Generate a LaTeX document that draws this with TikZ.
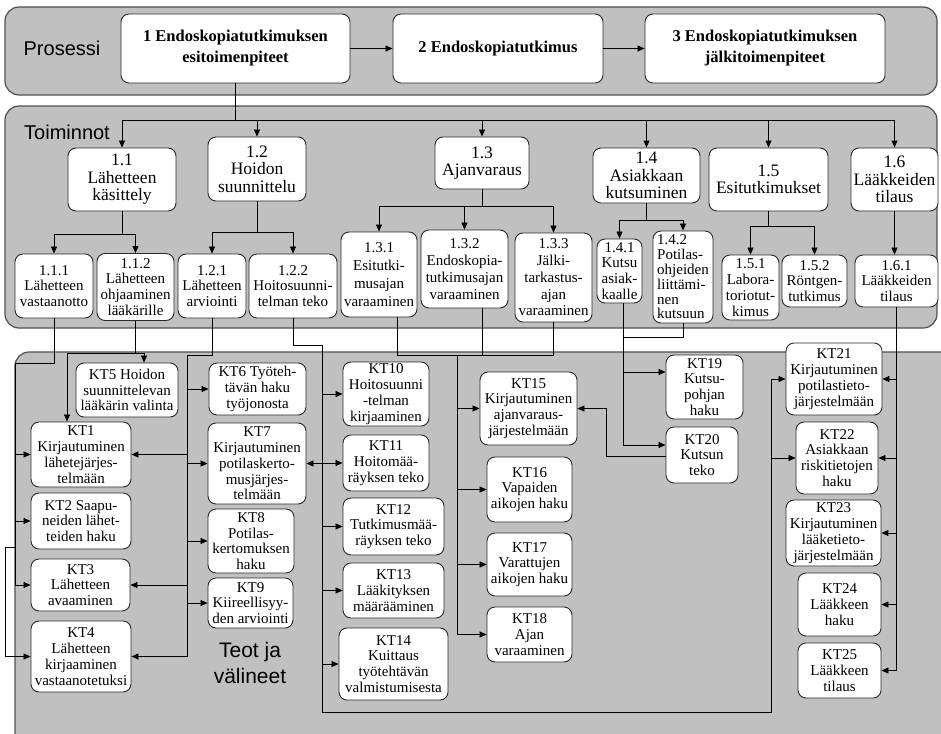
\documentclass[tikz,border=0pt]{standalone}
\usepackage{fontspec}
\setmainfont{Liberation Serif}
\setsansfont{Liberation Sans}
\usepackage{tikz}
\usetikzlibrary{arrows.meta, calc}
\definecolor{panelFill}{HTML}{C0C0C0}
\definecolor{panelB}{HTML}{505050}
\definecolor{boxB}{HTML}{2A2A2A}

\begin{document}
\begin{tikzpicture}[x=1pt, y=-1pt, panel/.style={draw=panelB, fill=panelFill, line width=1.2pt, rounded corners=14pt}, box/.style={draw=boxB, fill=white, line width=0.9pt, rounded corners=8pt, align=center, inner sep=1pt}, sz/.style 2 args={minimum width=#1pt, minimum height=#2pt}, prc/.style={box, font=\bfseries\fontsize{16.5}{21}\selectfont}, fn/.style={box, font=\fontsize{17.5}{17.5}\selectfont}, sub/.style={box, font=\fontsize{15}{15.8}\selectfont}, kt/.style={box, font=\fontsize{15}{15.8}\selectfont}, lbl/.style={font=\sffamily\fontsize{20}{24}\selectfont, align=center}, arr/.style={-{Triangle[length=7pt,width=6pt]}, line width=0.7pt}, ln/.style={line width=0.7pt}]
\useasboundingbox (0,0) rectangle (941,733);
\clip (0,0) rectangle (941,733);
\draw[panel] (5,7) rectangle (937,95);
\draw[panel] (5,106) rectangle (937,328);
\draw[panel] (15,352) rectangle (970,770);
\node[lbl] (prosessi) at (62,48) {Prosessi};
\node[lbl] (toiminnot) at (67,132) {Toiminnot};
\node[lbl, font=\sffamily\fontsize{21}{26}\selectfont] (teot) at (250,663) {Teot ja\\välineet};
% prosessi
\node[prc, sz={229}{69}] (p1) at (235.5,48.5) {1 Endoskopiatutkimuksen\\esitoimenpiteet};
\node[prc, sz={210}{69}] (p2) at (498,48.5) {2 Endoskopiatutkimus};
\node[prc, sz={240}{69}] (p3) at (765,48.5) {3 Endoskopiatutkimuksen\\jälkitoimenpiteet};
\draw[arr] (p1) -- (p2);
\draw[arr] (p2) -- (p3);
% toiminnot
\node[fn, sz={108}{63}] (f11) at (122,179.5) {1.1\\Lähetteen\\käsittely};
\node[fn, sz={98}{64}] (f12) at (257,169) {1.2\\Hoidon\\suunnittelu};
\node[fn, sz={94}{52}] (f13) at (482,163) {1.3\\Ajanvaraus};
\node[fn, sz={107}{55}] (f14) at (646.5,175.5) {1.4\\Asiakkaan\\kutsuminen};
\node[fn, sz={119}{63}] (f15) at (768.5,179.5) {1.5\\Esitutkimukset};
\node[fn, sz={87}{63}] (f16) at (894.5,179.5) {1.6\\Lääkkeiden\\tilaus};
\draw[ln] (p1.south) -- ++(0,37) coordinate (split);
\foreach \f in {f11,f12,f13,f14,f15,f16} \draw[arr] (split) -| (\f);
\node[sub, sz={78}{64}] (f111) at (54,286) {1.1.1\\Lähetteen\\vastaanotto};
\node[sub, sz={77}{67}] (f112) at (135.5,287) {1.1.2\\Lähetteen\\ohjaaminen\\lääkärille};
\node[sub, sz={68}{64}] (f121) at (212,286) {1.2.1\\Lähetteen\\arviointi};
\node[sub, sz={88}{64}] (f122) at (293,286) {1.2.2\\Hoitosuunni-\\telman teko};
\node[sub, sz={76}{85}, font=\fontsize{15}{18}\selectfont] (f131) at (379,274.5) {1.3.1\\Esitutki-\\musajan\\varaaminen};
\node[sub, sz={87}{78}, font=\fontsize{15}{17}\selectfont] (f132) at (464.5,269) {1.3.2\\Endoskopia-\\tutkimusajan\\varaaminen};
\node[sub, sz={77}{89}, font=\fontsize{15}{16.8}\selectfont] (f133) at (553.5,277.5) {1.3.3\\Jälki-\\tarkastus-\\ajan\\varaaminen};
\node[sub, sz={45}{64}, inner sep=0pt] (f141) at (619.5,271) {1.4.1\\Kutsu\\asiak-\\kaalle};
\node[sub, sz={60}{92}, align=left, font=\fontsize{15}{14.8}\selectfont] (f142) at (683,277) {1.4.2\\Potilas-\\ohjeiden\\liittämi-\\nen\\kutsuun};
\node[sub, sz={57}{65}] (f151) at (750.5,287.5) {1.5.1\\Labora-\\toriotut-\\kimus};
\node[sub, sz={65}{52}] (f152) at (814.5,281) {1.5.2\\Röntgen-\\tutkimus};
\node[sub, sz={83}{52}] (f161) at (896.5,281) {1.6.1\\Lääkkeiden\\tilaus};
\draw[arr] (f11.south) -- ++(0,23) -| (f111);
\draw[arr] (f11.south) -- ++(0,23) -| (f112);
\draw[arr] (f12.south) -- ++(0,31) -| (f121);
\draw[arr] (f12.south) -- ++(0,31) -| (f122);
\foreach \f in {f131,f132,f133} \draw[arr] (f13.south) -- ++(0,17) -| (\f);
\foreach \f in {f141,f142} \draw[arr] (f14.south) -- ++(0,17) -| (\f);
\foreach \f in {f151,f152} \draw[arr] (f15.south) -- ++(0,15) -| (\f);
\draw[arr] (f16.south) -- (f16.south |- f161.north);
% teot ja valineet
\node[kt, sz={100}{65}] (kt1) at (81,454.5) {KT1\\Kirjautuminen\\lähetejärjes-\\telmään};
\node[kt, sz={100}{56}] (kt2) at (81,521) {KT2 Saapu-\\neiden lähet-\\teiden haku};
\node[kt, sz={99}{52}] (kt3) at (80.5,585) {KT3\\Lähetteen\\avaaminen};
\node[kt, sz={100}{71}] (kt4) at (81,656.5) {KT4\\Lähetteen\\kirjaaminen\\vastaanotetuksi};
\node[kt, sz={102}{54}] (kt5) at (127,390) {KT5 Hoidon\\suunnittelevan\\lääkärin valinta};
\node[kt, sz={97}{52}] (kt6) at (257.5,389) {KT6 Työteh-\\tävän haku\\työjonosta};
\node[kt, sz={98}{81}] (kt7) at (257,463.5) {KT7\\Kirjautuminen\\potilaskerto-\\musjärjes-\\telmään};
\node[kt, sz={86}{64}] (kt8) at (251,541) {KT8\\Potilas-\\kertomuksen\\haku};
\node[kt, sz={85}{50}] (kt9) at (250.5,603) {KT9\\Kiireellisyy-\\den arviointi};
\node[kt, sz={86}{64}] (kt10) at (386,394) {KT10\\Hoitosuunni\\-telman\\kirjaaminen};
\node[kt, sz={86}{56}] (kt11) at (386,463) {KT11\\Hoitomää-\\räyksen teko};
\node[kt, sz={101}{57}] (kt12) at (393.5,526.5) {KT12\\Tutkimusmää-\\räyksen teko};
\node[kt, sz={101}{55}] (kt13) at (393.5,590.5) {KT13\\Lääkityksen\\määrääminen};
\node[kt, sz={109}{72}] (kt14) at (393.5,664) {KT14\\Kuittaus\\työtehtävän\\valmistumisesta};
\node[kt, sz={97}{73}] (kt15) at (528.5,408.5) {KT15\\Kirjautuminen\\ajanvaraus-\\järjestelmään};
\node[kt, sz={85}{65}] (kt16) at (529.5,489.5) {KT16\\Vapaiden\\aikojen haku};
\node[kt, sz={85}{63}] (kt17) at (529.5,564.5) {KT17\\Varattujen\\aikojen haku};
\node[kt, sz={85}{55}] (kt18) at (529.5,634.5) {KT18\\Ajan\\varaaminen};
\node[kt, sz={77}{64}] (kt19) at (704.5,387) {KT19\\Kutsu-\\pohjan\\haku};
\node[kt, sz={72}{56}] (kt20) at (702,455) {KT20\\Kutsun\\teko};
\node[kt, sz={96}{72}] (kt21) at (834,379) {KT21\\Kirjautuminen\\potilastieto-\\järjestelmään};
\node[kt, sz={82}{72}] (kt22) at (837,458) {KT22\\Asiakkaan\\riskitietojen\\haku};
\node[kt, sz={95}{66}] (kt23) at (833.5,533) {KT23\\Kirjautuminen\\lääketieto-\\järjestelmään};
\node[kt, sz={83}{63}] (kt24) at (839.5,604.5) {KT24\\Lääkkeen\\haku};
\node[kt, sz={83}{55}] (kt25) at (839.5,670.5) {KT25\\Lääkkeen\\tilaus};
% 1.1.1
\coordinate (busA) at (15,585);
\coordinate (loopA) at (15,547);
\draw[ln] (f111.south) -- ++(0,45) -| (busA);
\foreach \k in {kt1,kt2,kt3} \draw[arr] (busA |- \k) -- (\k);
\draw[arr] (loopA) -- ++(-10,0) |- (kt4);
% 1.1.2
\draw[ln] (f112.south) -- ++(0,32) coordinate (busB);
\draw[arr] (busB) -| ([xshift=17pt]kt5.north);
\draw[arr] (busB) -| ([xshift=-14pt]kt1.north);
% 1.2.1
\coordinate (busC) at (187,656.5);
\draw[arr] (f121.south) -- ++(0,37) -| (busC) -- (kt4);
\foreach \k in {kt6,kt7,kt8,kt9,kt1,kt3} \draw[arr] (busC |- \k) -- (\k);
% 1.2.2
\coordinate (busD) at (322,712);
\coordinate (busE) at (771,379);
\draw[arr] (f122.south) -- ++(0,27) -| (busD) -| (busE) -- (kt21);
\foreach \k in {kt10,kt11,kt12,kt13,kt14,kt7} \draw[arr] (busD |- \k) -- (\k);
\draw[arr] (busE |- kt22) -- (kt22);
% 1.3.x
\draw[ln] ([xshift=18pt]f131.south) -- ++(0,38) -| (f133.south);
\draw[ln] ([xshift=17.5pt]f132.south) -- ++(0,47);
\coordinate (busF) at (457,355);
\draw[arr] (busF) |- (kt18);
\foreach \k in {kt15,kt16,kt17} \draw[arr] (busF |- \k) -- (\k);
% 1.4.x
\draw[arr] ([xshift=3.5pt]f141.south) |- ([yshift=15pt]kt19.west);
\draw[arr] ([xshift=3.5pt]f141.south) |- ([yshift=10pt]kt20.west);
\draw[ln] (f142.south) -- ++(0,14) -| ([xshift=3.5pt]f141.south);
\draw[arr] ([yshift=-1pt]kt20.west) -- ++(-59,0) |- (kt15);
% 1.6.1
\draw[arr] (f161.south) |- (kt25);
\foreach \k in {kt21,kt22,kt23,kt24} \draw[arr] (f161.south |- \k) -- (\k);
\end{tikzpicture}
\end{document}
